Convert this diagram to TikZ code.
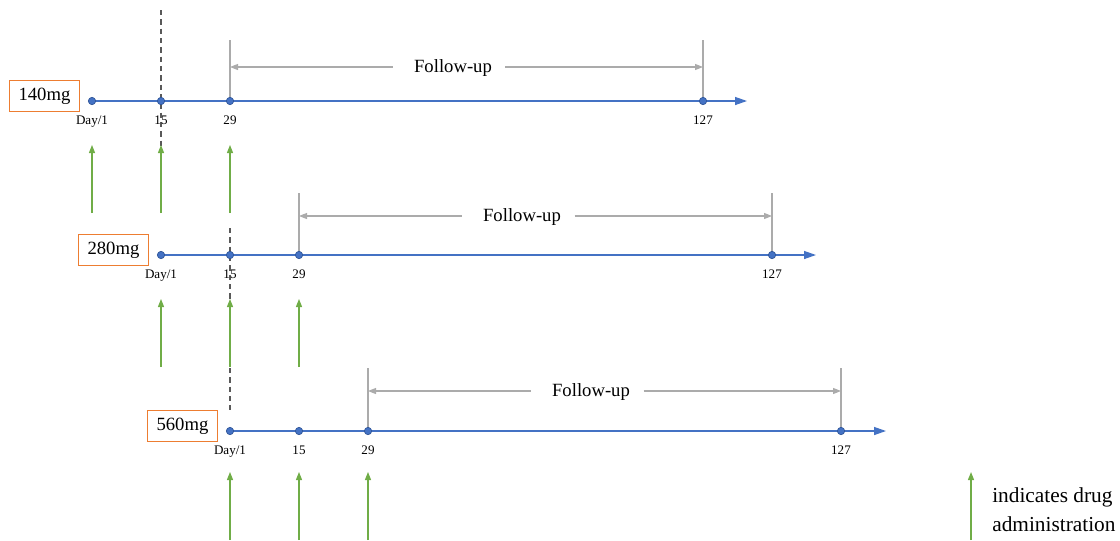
\documentclass[tikz,border=0pt]{standalone}
\usepackage{fontspec}
\setmainfont{Liberation Serif}
\usetikzlibrary{arrows.meta,backgrounds}
\definecolor{axisblue}{HTML}{4472C4}
\definecolor{dotblue}{HTML}{2F5597}
\definecolor{boxorange}{HTML}{ED7D31}
\definecolor{dosegreen}{HTML}{70AD47}
\definecolor{fugray}{HTML}{ABABAB}
\definecolor{dashgray}{HTML}{595959}
\tikzset{
  axisline/.style={draw=axisblue, line width=1pt, -{Triangle[length=9pt,width=6pt]}},
  daydot/.style={circle, fill=axisblue, draw=dotblue, line width=0.5pt, inner sep=0pt, minimum size=5.5pt},
  daylabel/.style={font=\fontsize{9.8}{11}\selectfont, inner sep=0pt, anchor=north},
  dosebox/.style={draw=boxorange, line width=0.8pt, font=\fontsize{14}{16}\selectfont, minimum width=53pt, minimum height=23.5pt, inner sep=2pt},
  fuline/.style={draw=fugray, line width=0.8pt},
  fuarrow/.style={draw=fugray, line width=0.8pt, -{Triangle[length=6pt,width=4.5pt]}},
  futext/.style={font=\fontsize{14}{16}\selectfont, inner sep=0pt},
  dosearrow/.style={draw=dosegreen, line width=0.9pt, -{Triangle[length=6pt,width=4.5pt]}},
  dayline/.style={draw=dashgray, line width=0.9pt, dash pattern=on 4pt off 3pt},
  legendtext/.style={font=\fontsize{16}{20}\selectfont, align=left, anchor=west, inner sep=0pt}
}
\begin{document}
\begin{tikzpicture}[x=0.75pt,y=-0.75pt]
\useasboundingbox (0,0) rectangle (1120,540);

% dashed guide lines for day 15
\draw[dayline] (161,10) -- (161,213);
\draw[dayline] (230,228) -- (230,410);

% three dose groups: name / dose / box x / axis y / first day x / axis end / follow-up y / top of follow-up bars / arrow base y
\foreach \g/\dose/\bx/\ay/\dx/\ax/\fy/\ft/\gb in {
  a/140mg/44.5/101/92/747/67/40/213,
  b/280mg/113.5/255/161/816/216/193/367,
  c/560mg/182.5/431/230/886/391/368/540}{
  \node[dosebox] (box\g) at (\bx,\ay-5) {\dose};
  \coordinate (end\g) at (\ax,\ay);
  \node[daydot] (d1\g) at (\dx,\ay) {};
  \node[daydot] (d15\g) at (\dx+69,\ay) {};
  \node[daydot] (d29\g) at (\dx+138,\ay) {};
  \node[daydot] (d127\g) at (\dx+611,\ay) {};
  \begin{scope}[on background layer]
    \draw[axisline] (d1\g.center) -- (end\g);
    % follow-up bracket bars
    \coordinate (fa\g) at (\dx+138,\ft);
    \coordinate (fb\g) at (\dx+611,\ft);
    \draw[fuline] (fa\g) -- (d29\g.center);
    \draw[fuline] (fb\g) -- (d127\g.center);
  \end{scope}
  \node[daylabel] at ([yshift=-11pt]d1\g) {Day/1};
  \node[daylabel] at ([yshift=-11pt]d15\g) {15};
  \node[daylabel] at ([yshift=-11pt]d29\g) {29};
  \node[daylabel] at ([yshift=-11pt]d127\g) {127};
  \node[futext, inner xsep=16pt] (fu\g) at (\dx+361,\fy+1) {Follow-up};
  \coordinate (fl\g) at (\dx+138,\fy);
  \coordinate (fr\g) at (\dx+611,\fy);
  \draw[fuarrow] (fu\g.west |- fl\g) -- (fl\g);
  \draw[fuarrow] ([xshift=-6pt]fu\g.east |- fr\g) -- (fr\g);
  % dosing arrows
  \coordinate (g1\g) at (\dx,\gb);
  \coordinate (g15\g) at (\dx+69,\gb);
  \coordinate (g29\g) at (\dx+138,\gb);
  \coordinate (h1\g) at (\dx,\gb-68);
  \coordinate (h15\g) at (\dx+69,\gb-68);
  \coordinate (h29\g) at (\dx+138,\gb-68);
  \draw[dosearrow] (g1\g) -- (h1\g);
  \draw[dosearrow] (g15\g) -- (h15\g);
  \draw[dosearrow] (g29\g) -- (h29\g);
}

% legend
\coordinate (lgb) at (971,540);
\coordinate (lgt) at (971,472);
\draw[dosearrow] (lgb) -- (lgt);
\node[legendtext] (lg1) at (992,497) {indicates drug};
\node[legendtext] (lg2) at (992,524) {administration};
\end{tikzpicture}
\end{document}
